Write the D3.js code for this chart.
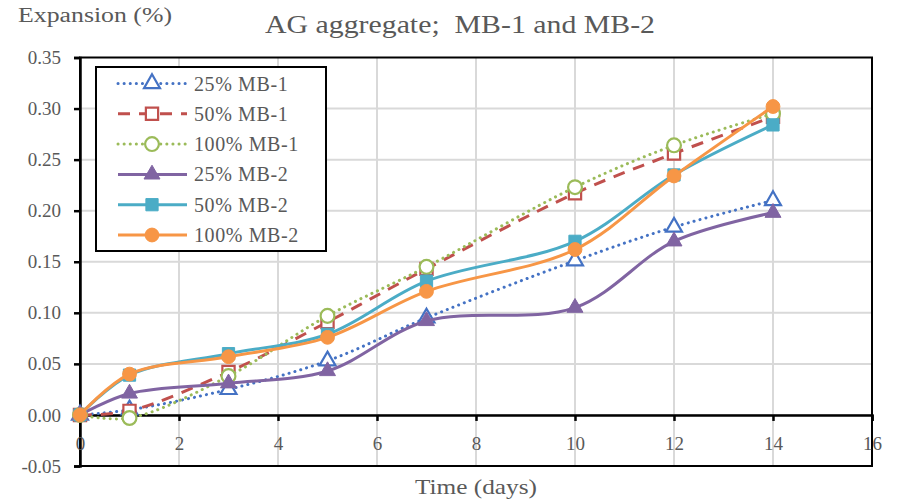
<!DOCTYPE html>
<html>
<head>
<meta charset="utf-8">
<script src="https://cdnjs.cloudflare.com/ajax/libs/d3/7.8.5/d3.min.js"></script>
<style>
  body { margin: 0; background: #fff; }
  text { font-family: "Liberation Serif", "DejaVu Serif", serif; fill: #595959; }
</style>
</head>
<body>
<div id="chart"><svg></svg></div>
<script>
var days = [0, 1, 3, 5, 7, 10, 12, 14];

var mb1_25 = [0, 0.005, 0.025, 0.053, 0.095, 0.151, 0.184, 0.210];
var mb1_50 = [0, 0.004, 0.042, 0.091, 0.143, 0.217, 0.256, 0.292];
var mb1_100 = [0, -0.003, 0.038, 0.097, 0.145, 0.223, 0.264, 0.295];
var mb2_25 = [0, 0.021, 0.031, 0.043, 0.092, 0.105, 0.170, 0.198];
var mb2_50 = [0, 0.039, 0.060, 0.079, 0.131, 0.170, 0.235, 0.284];
var mb2_100 = [0, 0.040, 0.057, 0.076, 0.121, 0.162, 0.234, 0.302];

var seriesNames = ["25% MB-1", "50% MB-1", "100% MB-1", "25% MB-2", "50% MB-2", "100% MB-2"];
var xTicks = [0, 2, 4, 6, 8, 10, 12, 14, 16];
var yTicks = [-0.05, 0, 0.05, 0.10, 0.15, 0.20, 0.25, 0.30, 0.35];

var width = 897,
    height = 503;

// style for each series, in the same order as the names
var styles = [
    { values: mb1_25, color: "#4472c4", dash: "0.1 6", symbol: d3.symbolTriangle, open: true },
    { values: mb1_50, color: "#c0504d", dash: "12 9", symbol: d3.symbolSquare, open: true },
    { values: mb1_100, color: "#9bbb59", dash: "0.1 6", symbol: d3.symbolCircle, open: true },
    { values: mb2_25, color: "#8064a2", dash: null, symbol: d3.symbolTriangle, open: false },
    { values: mb2_50, color: "#4bacc6", dash: null, symbol: d3.symbolSquare, open: false },
    { values: mb2_100, color: "#f79646", dash: null, symbol: d3.symbolCircle, open: false }
];

var svg = d3.select("#chart svg")
    .attr("width", width)
    .attr("height", height);

var x = d3.scaleLinear().domain([0, 16]).range([80, 872]);
var y = d3.scaleLinear().domain([-0.05, 0.35]).range([466, 57.5]);

// gridlines
svg.append("g")
    .selectAll("line")
    .data(xTicks.slice(1, -1))
    .enter().append("line")
    .attr("x1", d => x(d)).attr("x2", d => x(d))
    .attr("y1", y(0.35)).attr("y2", y(-0.05))
    .style("stroke", "#d9d9d9").style("stroke-width", 2);

svg.append("g")
    .selectAll("line")
    .data(yTicks.slice(1, -1))
    .enter().append("line")
    .attr("x1", x(0)).attr("x2", x(16))
    .attr("y1", d => y(d)).attr("y2", d => y(d))
    .style("stroke", "#d9d9d9").style("stroke-width", 2);

// plot frame
svg.append("rect")
    .attr("x", x(0)).attr("y", y(0.35))
    .attr("width", x(16) - x(0)).attr("height", y(-0.05) - y(0.35))
    .style("fill", "none").style("stroke", "#000").style("stroke-width", 2);

// y axis
var yAxis = svg.append("g")
    .attr("transform", "translate(" + x(0) + ",0)")
    .call(d3.axisLeft(y).tickValues(yTicks).tickFormat(d => d.toFixed(2)).tickSize(6).tickPadding(13));

// x axis along zero
var xAxis = svg.append("g")
    .attr("transform", "translate(0," + y(0) + ")")
    .call(d3.axisBottom(x).tickValues(xTicks).tickSize(6).tickPadding(16));

[yAxis, xAxis].forEach(function(g) {
    g.attr("font-family", null);
    g.select(".domain").style("stroke", "#000").style("stroke-width", 2.5);
    g.selectAll(".tick line").style("stroke", "#000").style("stroke-width", 2.5);
    g.selectAll(".tick text")
        .style("font-family", "'Liberation Serif', serif")
        .style("font-size", "19px")
        .style("fill", "#595959");
});

var line = d3.line()
    .x((d, i) => x(days[i]))
    .y(d => y(d))
    .curve(d3.curveCatmullRom);

var symbolSize = function(s) {
    if (s === d3.symbolTriangle) return 110;
    return 150;
};

styles.forEach(function(s) {
    var g = svg.append("g");
    g.append("path")
        .attr("d", line(s.values))
        .style("fill", "none")
        .style("stroke", s.color)
        .style("stroke-width", 3)
        .style("stroke-linecap", s.dash ? (s.dash.indexOf("0.1") === 0 ? "round" : "butt") : "round")
        .style("stroke-dasharray", s.dash);

    g.selectAll("path.pt")
        .data(s.values)
        .enter().append("path")
        .attr("class", "pt")
        .attr("d", d3.symbol().type(s.symbol).size(symbolSize(s.symbol)))
        .attr("transform", (d, i) => "translate(" + x(days[i]) + "," + y(d) + ")")
        .style("fill", s.open ? "#fff" : s.color)
        .style("stroke", s.color)
        .style("stroke-width", s.open ? 2.2 : 1);
});

// legend
var legend = svg.append("g");
legend.append("rect")
    .attr("x", 96).attr("y", 67)
    .attr("width", 230).attr("height", 184)
    .style("fill", "#fff").style("stroke", "#000").style("stroke-width", 2);

styles.forEach(function(s, i) {
    var ly = 83.5 + i * 30.3;
    var item = legend.append("g");
    item.append("line")
        .attr("x1", 118).attr("x2", 187)
        .attr("y1", ly).attr("y2", ly)
        .style("stroke", s.color)
        .style("stroke-width", 3)
        .style("stroke-linecap", s.dash && s.dash.indexOf("0.1") === 0 ? "round" : "butt")
        .style("stroke-dasharray", s.dash);
    item.append("path")
        .attr("d", d3.symbol().type(s.symbol).size(symbolSize(s.symbol)))
        .attr("transform", "translate(152," + ly + ")")
        .style("fill", s.open ? "#fff" : s.color)
        .style("stroke", s.color)
        .style("stroke-width", s.open ? 2.2 : 1);
    item.append("text")
        .attr("x", 194).attr("y", ly)
        .attr("dy", "0.35em")
        .style("font-size", "20px")
        .style("letter-spacing", "0.6px")
        .text(seriesNames[i]);
});

// titles
svg.append("text")
    .attr("x", 265).attr("y", 33)
    .attr("textLength", 390)
    .attr("lengthAdjust", "spacingAndGlyphs")
    .style("font-size", "26px")
    .style("white-space", "pre")
    .text("AG aggregate;  MB-1 and MB-2");

svg.append("text")
    .attr("x", 18).attr("y", 22)
    .attr("textLength", 154)
    .attr("lengthAdjust", "spacingAndGlyphs")
    .style("font-size", "20px")
    .text("Expansion (%)");

svg.append("text")
    .attr("x", 415).attr("y", 494)
    .attr("textLength", 122)
    .attr("lengthAdjust", "spacingAndGlyphs")
    .style("font-size", "22px")
    .text("Time (days)");
</script>
</body>
</html>
